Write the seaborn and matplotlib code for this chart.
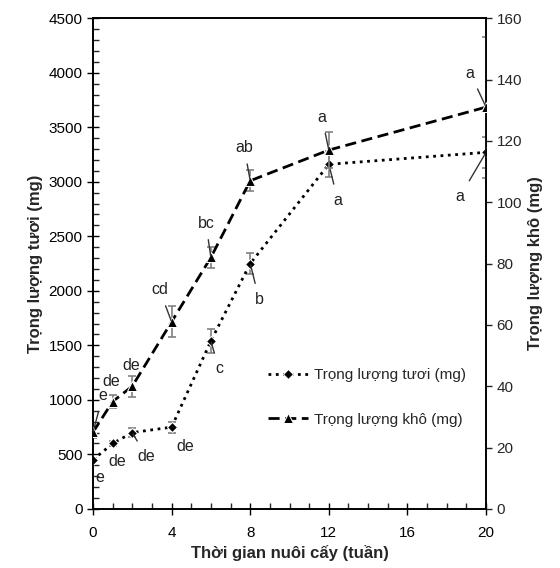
import numpy as np
import pandas as pd
import matplotlib
matplotlib.use("Agg")
import matplotlib.pyplot as plt
import seaborn as sns
from matplotlib.ticker import MultipleLocator

sns.set_style("ticks")
plt.rcParams['font.family'] = ['Liberation Sans', 'DejaVu Sans']

# data
weeks = [0, 1, 2, 4, 6, 8, 12, 20]
fresh = [450, 600, 700, 750, 1540, 2250, 3160, 3270]      # mg, left axis
fresh_err = [20, 20, 45, 50, 110, 95, 120, 140]
dry = [25, 35, 40, 61, 82, 107, 117, 131]                # mg, right axis
dry_err = [2, 2, 3.5, 5, 3.5, 3.5, 6, 23]
fresh_letters = ['e', 'de', 'de', 'de', 'c', 'b', 'a', 'a']
dry_letters = ['e', 'de', 'de', 'cd', 'bc', 'ab', 'a', 'a']

# label offsets (pixels) and whether a leader line is drawn
fresh_off = [(7, -18), (5, -18), (14, -24), (14, -19), (8, -28), (9, -36), (9, -36), (-26, -44)]
fresh_lead = [False, False, True, False, True, True, True, True]
dry_off = [(10, 37), (-1, 20), (-1, 21), (-12, 32), (-5, 34), (-6, 33), (-7, 33), (-16, 34)]
dry_lead = [True, False, False, True, True, True, True, True]

df = pd.DataFrame({'week': weeks, 'fresh': fresh, 'dry': dry})

fig = plt.figure(figsize=(5.6, 5.68), dpi=100)
ax = fig.add_axes([0.166, 0.104, 0.702, 0.864])
ax2 = ax.twinx()

ax.errorbar(weeks, fresh, yerr=fresh_err, fmt='none', ecolor='#808080',
            elinewidth=1.2, capsize=3, capthick=1.2, zorder=2)
sns.lineplot(data=df, x='week', y='fresh', ax=ax, color='black', marker='D',
             markersize=5, linestyle=':', linewidth=2, label='Trọng lượng tươi (mg)',
             legend=False, zorder=3)
ax2.errorbar(weeks, dry, yerr=dry_err, fmt='none', ecolor='#808080',
             elinewidth=1.2, capsize=3, capthick=1.2, zorder=2)
sns.lineplot(data=df, x='week', y='dry', ax=ax2, color='black', marker='^',
             markersize=7, linewidth=2, label='Trọng lượng khô (mg)',
             legend=False, zorder=3)
ax2.lines[-1].set_dashes([4, 2])

lead_style = dict(arrowstyle='-', color='#333333', lw=1.0, shrinkA=4, shrinkB=1)
for x, y, t, off, lead in zip(weeks, fresh, fresh_letters, fresh_off, fresh_lead):
    ax.annotate(t, (x, y), xytext=off, textcoords='offset pixels', ha='center',
                va='center', fontsize=11.5, color='#222222',
                arrowprops=lead_style if lead else None)
for x, y, t, off, lead in zip(weeks, dry, dry_letters, dry_off, dry_lead):
    ax2.annotate(t, (x, y), xytext=off, textcoords='offset pixels', ha='center',
                 va='center', fontsize=11.5, color='#222222',
                 arrowprops=lead_style if lead else None)

ax.set_xlim(0, 20)
ax.set_ylim(0, 4500)
ax2.set_ylim(0, 160)
ax.xaxis.set_major_locator(MultipleLocator(4))
ax.xaxis.set_minor_locator(MultipleLocator(1))
ax.yaxis.set_major_locator(MultipleLocator(500))
ax.yaxis.set_minor_locator(MultipleLocator(100))
ax2.yaxis.set_major_locator(MultipleLocator(20))

ax.tick_params(axis='both', which='major', direction='inout', length=8, width=1,
               labelsize=11, colors='black')
ax.tick_params(axis='x', which='major', pad=8)
ax.tick_params(axis='both', which='minor', direction='in', length=4, width=1)
ax2.tick_params(axis='y', which='major', direction='out', length=4, width=1,
                labelsize=11)
for a in (ax, ax2):
    for s in a.spines.values():
        s.set_color('black')
        s.set_linewidth(1.2)

ax.set_xlabel('Thời gian nuôi cấy (tuần)', fontsize=12, fontweight='bold', labelpad=4)
ax.set_ylabel('Trọng lượng tươi (mg)', fontsize=12, fontweight='bold')
ax2.set_ylabel('Trọng lượng khô (mg)', fontsize=12, fontweight='bold')

h1, l1 = ax.get_legend_handles_labels()
h2, l2 = ax2.get_legend_handles_labels()
ax2.legend(h1 + h2, l1 + l2, loc='upper left', bbox_to_anchor=(0.41, 0.315),
           frameon=False, fontsize=11, handlelength=2.6, handletextpad=0.4,
           labelspacing=2.0)

fig.savefig('out.png', dpi=100)
